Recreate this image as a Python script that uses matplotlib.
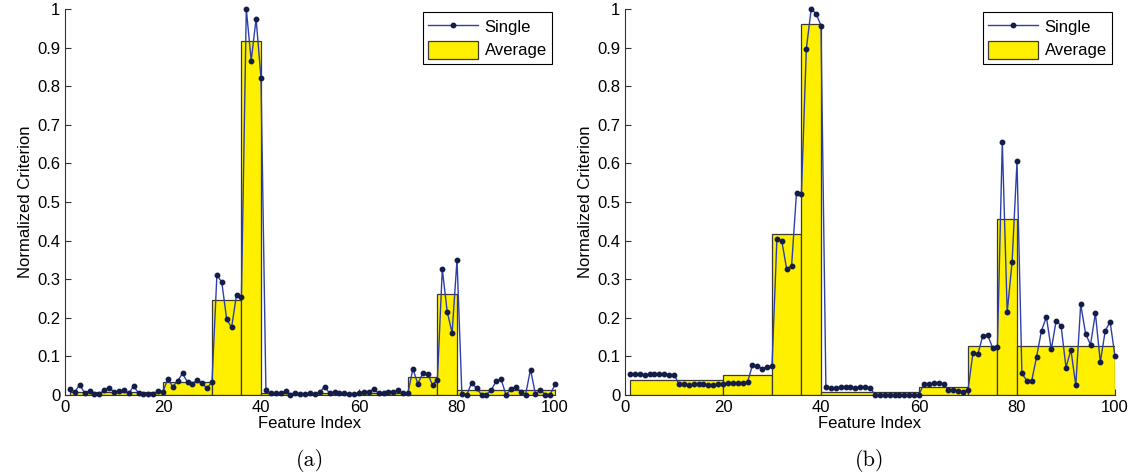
import numpy as np
import matplotlib
matplotlib.use("Agg")
import matplotlib.pyplot as plt

features = list(range(1, 101))

single_a = [0.015, 0.008, 0.027, 0.005, 0.010, 0.002, 0.002, 0.013, 0.019, 0.008,
            0.010, 0.012, 0.004, 0.023, 0.005, 0.003, 0.003, 0.003, 0.010, 0.009,
            0.042, 0.021, 0.037, 0.056, 0.033, 0.029, 0.039, 0.030, 0.017, 0.034,
            0.311, 0.292, 0.196, 0.175, 0.259, 0.254, 1.000, 0.866, 0.975, 0.821,
            0.012, 0.004, 0.004, 0.005, 0.010, 0.001, 0.004, 0.002, 0.002, 0.004,
            0.002, 0.007, 0.022, 0.004, 0.007, 0.005, 0.004, 0.003, 0.002, 0.005,
            0.009, 0.008, 0.016, 0.004, 0.004, 0.009, 0.009, 0.012, 0.004, 0.006,
            0.068, 0.029, 0.056, 0.055, 0.026, 0.040, 0.326, 0.216, 0.161, 0.350,
            0.002, 0.001, 0.032, 0.017, 0.001, 0.001, 0.013, 0.036, 0.041, 0.000,
            0.015, 0.022, 0.009, 0.001, 0.066, 0.003, 0.013, 0.001, 0.000, 0.028]
edges_a = [1, 20, 30, 36, 40, 70, 76, 80, 100]
avg_a = [0.009, 0.034, 0.247, 0.916, 0.006, 0.046, 0.262, 0.013]

single_b = [0.055, 0.055, 0.054, 0.052, 0.054, 0.054, 0.054, 0.054, 0.053, 0.053,
            0.029, 0.028, 0.025, 0.028, 0.028, 0.028, 0.027, 0.027, 0.028, 0.029,
            0.030, 0.030, 0.031, 0.032, 0.033, 0.077, 0.076, 0.068, 0.073, 0.074,
            0.404, 0.399, 0.326, 0.335, 0.524, 0.521, 0.896, 1.000, 0.988, 0.957,
            0.020, 0.017, 0.019, 0.020, 0.020, 0.020, 0.019, 0.020, 0.020, 0.019,
            0.001, 0.001, 0.001, 0.001, 0.001, 0.001, 0.001, 0.001, 0.000, 0.001,
            0.029, 0.028, 0.030, 0.030, 0.029, 0.012, 0.012, 0.011, 0.008, 0.013,
            0.108, 0.105, 0.153, 0.156, 0.123, 0.124, 0.655, 0.214, 0.345, 0.605,
            0.056, 0.037, 0.037, 0.099, 0.167, 0.202, 0.118, 0.193, 0.179, 0.071,
            0.117, 0.025, 0.235, 0.159, 0.130, 0.212, 0.085, 0.166, 0.190, 0.100]
edges_b = [1, 20, 30, 36, 40, 60, 70, 76, 80, 100]
avg_b = [0.040, 0.053, 0.417, 0.960, 0.0086, 0.020, 0.128, 0.455, 0.128]

xticks = [0, 20, 40, 60, 80, 100]
yticks = [0, 0.1, 0.2, 0.3, 0.4, 0.5, 0.6, 0.7, 0.8, 0.9, 1]
ytick_labels = ["0", "0.1", "0.2", "0.3", "0.4", "0.5", "0.6", "0.7", "0.8", "0.9", "1"]

plt.rcParams['font.family'] = ['Liberation Sans', 'DejaVu Sans']

fig = plt.figure(figsize=(11.33, 4.75), dpi=100)
W, H = 1133, 475
axes_px = [(65, 555), (625, 1115)]
top_px, bot_px = 9, 395

panels = [(single_a, edges_a, avg_a, "(a)"), (single_b, edges_b, avg_b, "(b)")]
for (x0, x1), (single, edges, avg, tag) in zip(axes_px, panels):
    ax = fig.add_axes([x0 / W, 1 - bot_px / H, (x1 - x0) / W, (bot_px - top_px) / H])
    lefts = edges[:-1]
    widths = np.diff(edges)
    ax.bar(lefts, avg, width=widths, align='edge', color='#FFF000',
           edgecolor='#3a3a30', linewidth=0.9, label='Average', zorder=2)
    ax.plot(features, single, color='#2E3FA8', linewidth=1.0, marker='o',
            markersize=3.2, markerfacecolor='#141C48', markeredgecolor='#141C48',
            label='Single', zorder=3, clip_on=False)
    ax.set_xlim(0, 100)
    ax.set_ylim(0, 1)
    ax.set_xticks(xticks)
    ax.set_yticks(yticks)
    ax.set_yticklabels(ytick_labels)
    ax.tick_params(direction='in', length=4, labelsize=12, width=0.8, color='#333333')
    for s in ['top', 'right']:
        ax.spines[s].set_visible(False)
    for s in ['left', 'bottom']:
        ax.spines[s].set_linewidth(0.8)
        ax.spines[s].set_color('#333333')
    ax.set_xlabel("Feature Index", fontsize=12, labelpad=1)
    ax.set_ylabel("Normalized Criterion", fontsize=12, labelpad=3)
    handles, labels = ax.get_legend_handles_labels()
    order = [labels.index('Single'), labels.index('Average')]
    leg = ax.legend([handles[i] for i in order], [labels[i] for i in order],
                    loc='upper right', fontsize=12, fancybox=False, framealpha=1,
                    edgecolor='black', handlelength=3.0, handleheight=1.3,
                    borderaxespad=0.2, borderpad=0.3, labelspacing=0.3,
                    handletextpad=0.4)
    leg.get_frame().set_linewidth(0.8)
    leg.set_zorder(5)
    cx = (x0 + x1) / 2 / W
    fig.text(cx, 1 - 460 / H, tag, ha='center', va='center', fontsize=16,
             fontname='cmr10')

fig.savefig("out.png", dpi=100)
